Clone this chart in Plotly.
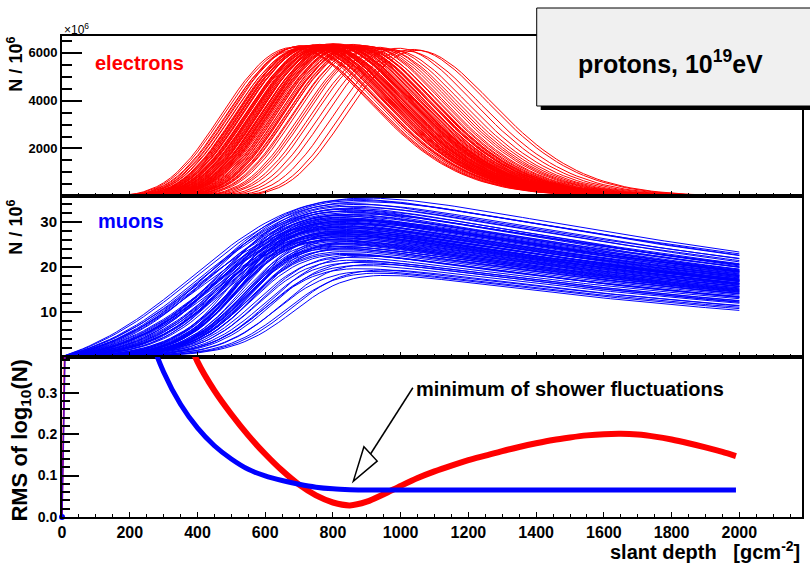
import numpy as np
import plotly.graph_objects as go
from plotly.subplots import make_subplots

# ---- per-shower profile parameters (protons, 1e19 eV) ----
# electron profile maximum depth [g/cm^2] and size at maximum [1e6]
e_xmax = [690, 702, 715, 684, 708, 697, 718, 711, 725, 733,
          741, 728, 752, 747, 736, 759, 744, 763, 771, 756,
          768, 739, 775, 749, 762, 778, 731, 754, 766, 773,
          783, 790, 797, 786, 804, 812, 795, 808, 819, 826,
          801, 815, 788, 833, 822, 810, 798, 829, 837, 806,
          792, 817, 824, 784, 846, 858, 851, 869, 877, 842,
          863, 884, 892, 855, 874, 898, 848, 866, 905, 918,
          934, 947, 926, 958, 975, 992, 1013, 1036, 1049, 745,
          758, 779, 803, 821, 838, 861, 727, 770, 813, 880]
e_nmax = [6210, 6260, 6180, 6230, 6290, 6150, 6240, 6300, 6270, 6220,
          6310, 6250, 6200, 6330, 6280, 6190, 6260, 6350, 6230, 6300,
          6170, 6280, 6240, 6320, 6210, 6270, 6290, 6160, 6340, 6250,
          6300, 6230, 6380, 6260, 6310, 6200, 6350, 6280, 6330, 6240,
          6290, 6370, 6220, 6310, 6260, 6340, 6190, 6300, 6270, 6360,
          6250, 6320, 6280, 6230, 6300, 6260, 6210, 6330, 6270, 6290,
          6240, 6310, 6200, 6350, 6250, 6280, 6320, 6230, 6260, 6190,
          6230, 6150, 6210, 6170, 6120, 6190, 6080, 6140, 6100, 6270,
          6300, 6240, 6320, 6280, 6260, 6210, 6250, 6290, 6330, 6180]
# muon number at its maximum and at 2000 g/cm^2 [1e6]
mu_peak = [34.5, 33.2, 31.8, 35.3, 32.6, 30.4, 33.9, 29.7, 32.1, 34.8,
           31.2, 28.9, 33.5, 30.6, 27.8, 32.4, 29.5, 34.1, 30.9, 28.3,
           31.7, 26.9, 29.8, 33.0, 27.4, 30.2, 28.6, 31.5, 26.2, 29.1,
           30.5, 27.2, 28.8, 32.3, 26.5, 29.6, 25.8, 31.0, 27.9, 24.6,
           28.4, 30.1, 26.7, 25.3, 29.3, 27.5, 31.4, 24.2, 28.1, 26.0,
           27.0, 29.9, 25.6, 28.7, 24.9, 23.4, 27.3, 22.8, 26.4, 25.1,
           24.0, 22.1, 25.7, 23.0, 26.8, 21.5, 24.5, 27.6, 22.6, 21.0,
           20.3, 22.4, 19.6, 21.2, 19.0, 20.6, 18.6, 19.3, 18.1, 30.3,
           28.0, 32.8, 26.1, 29.0, 23.8, 25.2, 35.0, 27.7, 30.7, 24.3]
mu_end = [22.6, 21.1, 20.4, 23.3, 20.2, 19.1, 21.8, 18.4, 19.9, 22.9,
          19.3, 17.5, 21.4, 18.8, 16.9, 20.5, 18.0, 21.9, 19.0, 17.0,
          19.9, 16.2, 18.1, 20.7, 16.4, 18.6, 17.3, 19.5, 15.6, 17.6,
          18.8, 16.3, 17.2, 20.0, 15.7, 18.0, 15.1, 19.1, 16.8, 14.5,
          17.0, 18.4, 15.9, 14.8, 17.8, 16.4, 19.4, 14.0, 16.9, 15.3,
          16.1, 18.2, 15.0, 17.3, 14.6, 13.7, 16.3, 13.3, 15.6, 14.7,
          14.1, 12.9, 15.3, 13.4, 16.0, 12.5, 14.4, 16.7, 13.2, 12.2,
          11.9, 13.2, 11.4, 12.4, 11.0, 12.1, 10.7, 11.3, 10.3, 18.9,
          17.1, 20.6, 15.6, 17.8, 14.0, 14.9, 22.5, 16.7, 19.1, 14.3]

# ---- RMS of log10(N) over the shower sample ----
rms_depth = [0, 50, 100, 150, 200, 250, 300, 350, 400, 450, 500, 550, 600, 650,
             700, 750, 800, 850, 900, 950, 1000, 1050, 1100, 1150, 1200, 1250,
             1300, 1350, 1400, 1450, 1500, 1550, 1600, 1650, 1700, 1750, 1800,
             1850, 1900, 1950, 1990]
rms_e = [0.0, 2.6, 1.9, 1.4, 1.05, 0.80, 0.62, 0.48, 0.375, 0.305, 0.248, 0.197,
         0.152, 0.112, 0.078, 0.052, 0.035, 0.028, 0.037, 0.055, 0.075, 0.094,
         0.110, 0.124, 0.137, 0.148, 0.159, 0.169, 0.178, 0.186, 0.192, 0.197,
         0.200, 0.201, 0.199, 0.194, 0.187, 0.178, 0.168, 0.157, 0.147]
rms_mu = [0.0, 2.2, 1.3, 0.88, 0.62, 0.46, 0.35, 0.272, 0.215, 0.172, 0.140,
          0.115, 0.099, 0.088, 0.079, 0.072, 0.068, 0.066, 0.065, 0.065, 0.065,
          0.065, 0.065, 0.065, 0.065, 0.065, 0.065, 0.065, 0.065, 0.065, 0.065,
          0.065, 0.065, 0.065, 0.065, 0.065, 0.065, 0.065, 0.065, 0.065, 0.065]

depth = np.arange(0, 2001, 20, dtype=float)

GH_LAMBDA = 58.0     # Gaisser-Hillas interaction length
GH_SPAN = 800.0      # Xmax - X0


def electron_profile(xmax, nmax):
    x0 = xmax - GH_SPAN
    t = np.clip((depth - x0) / (xmax - x0), 1e-9, None)
    k = (xmax - x0) / GH_LAMBDA
    return nmax * np.exp(k * (np.log(t) + 1.0 - t))


def muon_profile(xmax, peak, end):
    w = max(88.0, 90.0 + 0.8 * (800.0 - xmax))
    xh = xmax - 273.0 - 0.3 * (xmax - 800.0)
    rise = 1.0 / (1.0 + np.exp(-(depth - xh) / w))
    r0 = 1.0 / (1.0 + np.exp(xh / w))
    rise = (rise - r0) / (1.0 - r0)
    lo, hi = 200.0, 1e6
    target = end / peak
    for _ in range(60):
        att = np.sqrt(lo * hi)
        g = rise * np.exp(-depth / att)
        if g[-1] / g.max() < target:
            lo = att
        else:
            hi = att
    g = rise * np.exp(-depth / att)
    return peak * g / g.max()


ex, ey, mx, my = [], [], [], []
for xm, nm, mp, me in zip(e_xmax, e_nmax, mu_peak, mu_end):
    ex += list(depth) + [None]
    ey += list(electron_profile(xm, nm)) + [None]
    mx += list(depth) + [None]
    my += list(muon_profile(xm, mp, me)) + [None]

RED = "#ff0000"
BLUE = "#0000ff"
NARROW = "Liberation Sans Narrow, Arial Narrow, Liberation Sans, Arial, sans-serif"
WIDE = "Liberation Sans, Arial, sans-serif"

fig = make_subplots(rows=3, cols=1, shared_xaxes=True, vertical_spacing=0)

fig.add_trace(go.Scatter(x=ex, y=ey, mode="lines", line=dict(color=RED, width=1),
                         hoverinfo="skip"), row=1, col=1)
fig.add_trace(go.Scatter(x=mx, y=my, mode="lines", line=dict(color=BLUE, width=1),
                         hoverinfo="skip"), row=2, col=1)

# RMS curves: thin start segment, thick smooth body
fig.add_trace(go.Scatter(x=rms_depth[:2], y=rms_e[:2], mode="lines",
                         line=dict(color=RED, width=1.5)), row=3, col=1)
fig.add_trace(go.Scatter(x=rms_depth[1:], y=rms_e[1:], mode="lines",
                         line=dict(color=RED, width=6, shape="spline", smoothing=0.8)),
              row=3, col=1)
fig.add_trace(go.Scatter(x=rms_depth[:2], y=rms_mu[:2], mode="lines",
                         line=dict(color="#5500cc", width=1.5)), row=3, col=1)
fig.add_trace(go.Scatter(x=rms_depth[1:], y=rms_mu[1:], mode="lines",
                         line=dict(color=BLUE, width=5, shape="spline", smoothing=0.8)),
              row=3, col=1)
fig.add_trace(go.Scatter(x=rms_depth[:1], y=rms_mu[:1], mode="markers",
                         marker=dict(color=BLUE, size=6), cliponaxis=False),
              row=3, col=1)

X_MAX = 2185
xcommon = dict(range=[0, X_MAX], showline=True, mirror=True, linewidth=2,
               linecolor="black", showgrid=False, zeroline=False,
               ticks="inside", ticklen=5, tickwidth=1, tickcolor="black",
               tickmode="array", tickvals=list(range(0, 2001, 200)),
               minor=dict(tickmode="array", tickvals=list(range(0, 2200, 50)),
                          ticks="inside", ticklen=3, tickwidth=1, tickcolor="black"))
for i in (1, 2, 3):
    fig.update_xaxes(row=i, col=1, **xcommon)
fig.update_xaxes(row=1, col=1, showticklabels=False)
fig.update_xaxes(row=2, col=1, showticklabels=False)
fig.update_xaxes(row=3, col=1, showticklabels=True,
                 tickfont=dict(family=NARROW, size=16, color="black", weight="bold"))

ycommon = dict(showline=True, mirror=True, linewidth=2, linecolor="black",
               showgrid=False, zeroline=False, ticks="inside", tickwidth=2,
               tickcolor="black", tickmode="array")
fig.update_yaxes(row=1, col=1, range=[0, 6700], tickvals=[2000, 4000, 6000], ticklen=20,
                 tickfont=dict(family=NARROW, size=13, color="black", weight="bold"),
                 minor=dict(tickmode="array", tickvals=list(range(500, 6700, 500)),
                            ticks="inside", ticklen=10, tickwidth=1.5, tickcolor="black"),
                 **ycommon)
fig.update_yaxes(row=2, col=1, range=[0, 35.7], tickvals=[10, 20, 30], ticklen=20,
                 tickfont=dict(family=NARROW, size=15, color="black", weight="bold"),
                 minor=dict(tickmode="array", tickvals=list(range(2, 36, 2)),
                            ticks="inside", ticklen=10, tickwidth=1.5, tickcolor="black"),
                 **ycommon)
fig.update_yaxes(row=3, col=1, range=[0, 0.387], tickvals=[0, 0.1, 0.2, 0.3],
                 ticktext=["0.0", "0.1", "0.2", "0.3"], ticklen=17,
                 tickfont=dict(family=NARROW, size=14, color="black", weight="bold"),
                 minor=dict(tickmode="array",
                            tickvals=[round(0.02 * i, 2) for i in range(1, 20)],
                            ticks="inside", ticklen=8, tickwidth=1.5, tickcolor="black"),
                 **ycommon)


def px_x(p):
    return (p - 62) / 742.0


def px_y(p):
    return (517 - p) / 481.0


annotations = [
    dict(text="<b>electrons</b>", x=px_x(93), y=px_y(63), xanchor="left", yanchor="middle",
         font=dict(family=NARROW, size=20, color=RED)),
    dict(text="<b>muons</b>", x=px_x(96), y=px_y(221), xanchor="left", yanchor="middle",
         font=dict(family=NARROW, size=20, color=BLUE)),
    dict(text="×10<sup>6</sup>", x=px_x(62), y=px_y(29), xanchor="left", yanchor="middle",
         font=dict(family=NARROW, size=12, color="black")),
    dict(text="<b>N / 10<sup>6</sup></b>", x=px_x(15), y=px_y(35), xanchor="center",
         yanchor="top", textangle=-90, font=dict(family=WIDE, size=18, color="black")),
    dict(text="<b>N / 10<sup>6</sup></b>", x=px_x(15), y=px_y(198), xanchor="center",
         yanchor="top", textangle=-90, font=dict(family=WIDE, size=18, color="black")),
    dict(text="<b>RMS of log<sub>10</sub>(N)</b>", x=px_x(20), y=px_y(357),
         xanchor="center", yanchor="top", textangle=-90,
         font=dict(family=WIDE, size=22, color="black")),
    dict(text="<b>slant depth\u00a0\u00a0\u00a0[gcm<sup>-2</sup>]</b>",
         x=px_x(804), y=px_y(550), xanchor="right", yanchor="middle",
         font=dict(family=NARROW, size=20, color="black")),
    dict(text="<b>minimum of shower fluctuations</b>", x=px_x(415), y=px_y(389),
         xanchor="left", yanchor="middle", font=dict(family=NARROW, size=20, color="black")),
    dict(text="<b>protons, 10<sup>19</sup>eV</b>", x=px_x(672), y=px_y(62),
         xanchor="center", yanchor="middle", font=dict(family=NARROW, size=25, color="black")),
]
for a in annotations:
    a.update(xref="paper", yref="paper", showarrow=False)

# arrow pointing at the minimum, drawn in the RMS panel's data coordinates
arrow_tail = (1036, 0.312)
arrow_base = (911, 0.152)
head_tip = (860, 0.086)
head_c1 = (891.5, 0.1695)
head_c2 = (930.6, 0.1349)

shapes = [
    dict(type="rect", xref="paper", yref="paper", x0=px_x(542), x1=px_x(820),
         y0=px_y(110), y1=px_y(12), fillcolor="black", line=dict(width=0), layer="above"),
    dict(type="rect", xref="paper", yref="paper", x0=px_x(538), x1=px_x(816),
         y0=px_y(106), y1=px_y(8), fillcolor="#f0f0f0",
         line=dict(color="black", width=1), layer="above"),
    dict(type="line", xref="x3", yref="y3", x0=arrow_tail[0], y0=arrow_tail[1],
         x1=arrow_base[0], y1=arrow_base[1], line=dict(color="black", width=1.5)),
    dict(type="path", xref="x3", yref="y3",
         path=f"M {head_tip[0]} {head_tip[1]} L {head_c1[0]} {head_c1[1]} "
              f"L {head_c2[0]} {head_c2[1]} Z",
         fillcolor="white", line=dict(color="black", width=1.5)),
]

fig.update_layout(width=810, height=572, margin=dict(l=62, r=6, t=36, b=55, pad=0),
                  paper_bgcolor="white", plot_bgcolor="white", showlegend=False,
                  annotations=annotations, shapes=shapes)

fig.write_html("out.html")
